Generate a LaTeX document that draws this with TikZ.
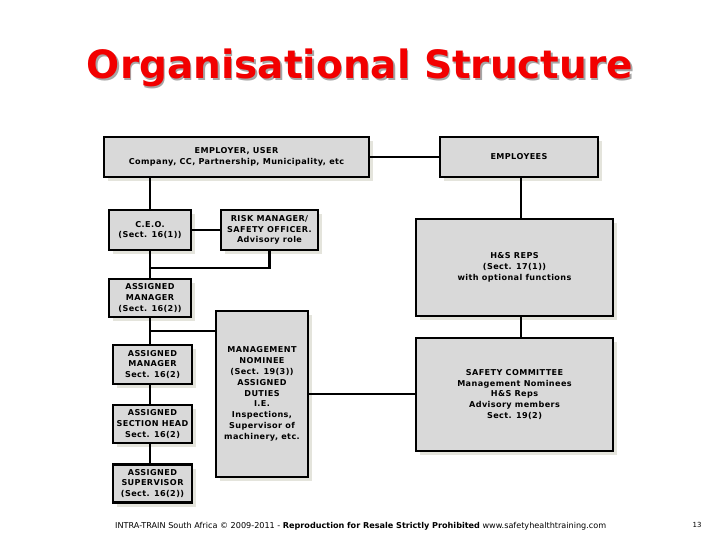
\documentclass[tikz,border=0pt]{standalone}
\usepackage{fontspec}
\setmainfont{DejaVu Sans}
\newfontfamily\boxfont{DejaVu Sans}[LetterSpace=5]
\usetikzlibrary{shadows}
\definecolor{boxfill}{HTML}{D9D9D9}
\definecolor{shadowc}{HTML}{E4E4DC}
\definecolor{titlered}{HTML}{F20000}
\begin{document}
\begin{tikzpicture}[x=1pt,y=-1pt,
  orgbox/.style={draw=black, line width=2.2pt, fill=boxfill, align=center, inner sep=1pt,
    font=\boxfont\fontsize{8.1}{10.8}\selectfont\bfseries,
    drop shadow={shadow xshift=4pt, shadow yshift=-4pt, fill=shadowc, opacity=1}},
  link/.style={line width=2.2pt}]
\useasboundingbox (0,0) rectangle (720,540);
\fill[white] (0,0) rectangle (720,540);

% title
\node[text=black!35, font=\fontsize{39}{44}\selectfont\bfseries] at (361.5,69.5) {Organisational Structure};
\node (title) [text=titlered, font=\fontsize{39}{44}\selectfont\bfseries] at (360,68) {Organisational Structure};

% boxes
\node[orgbox, minimum width=265, minimum height=40] (emp) at (236.5,157) {EMPLOYER, USER\\Company, CC, Partnership, Municipality, etc};
\node[orgbox, minimum width=158, minimum height=40] (emps) at (519,157) {EMPLOYEES};
\node[orgbox, minimum width=82, minimum height=40] (ceo) at (150,230) {C.E.O.\\(Sect. 16(1))};
\node[orgbox, minimum width=97, minimum height=40] (risk) at (269.5,230) {RISK MANAGER/\\SAFETY OFFICER.\\Advisory role};
\node[orgbox, minimum width=197, minimum height=97] (hs) at (514.5,267.5) {H\&S REPS\\(Sect. 17(1))\\with optional functions};
\node[orgbox, minimum width=82, minimum height=38] (asg1) at (150,298) {ASSIGNED\\MANAGER\\(Sect. 16(2))};
\node[orgbox, minimum width=92, minimum height=166] (mgmt) at (262,394) {MANAGEMENT\\NOMINEE\\(Sect. 19(3))\\ASSIGNED\\DUTIES\\I.E.\\Inspections,\\Supervisor of\\machinery, etc.};
\node[orgbox, minimum width=197, minimum height=113] (comm) at (514.5,394.5) {SAFETY COMMITTEE\\Management Nominees\\H\&S Reps\\Advisory members\\Sect. 19(2)};
\node[orgbox, minimum width=79, minimum height=39] (asg2) at (152.5,364.5) {ASSIGNED\\MANAGER\\Sect. 16(2)};
\node[orgbox, minimum width=79, minimum height=38] (sect) at (152.5,424) {ASSIGNED\\SECTION HEAD\\Sect. 16(2)};
\node[orgbox, minimum width=79, minimum height=38] (sup) at (152.5,483.5) {ASSIGNED\\SUPERVISOR\\(Sect. 16(2))};

% connectors
\coordinate (j1) at (150,268);
\coordinate (j2) at (150,331);
\coordinate (top1) at (150,0);
\coordinate (top2) at (521,0);
\draw[link] (top1 |- emp.south) -- (ceo.north);
\draw[link] (emp.east) -- (emps.west);
\draw[link] (top2 |- emps.south) -- (top2 |- hs.north);
\draw[link] (ceo.east) -- (risk.west);
\draw[link] (ceo.south) -- (asg1.north);
\draw[link] (risk.south) |- (j1);
\draw[link] (asg1.south) -- (top1 |- asg2.north);
\draw[link] (j2) -- (mgmt.west |- j2);
\draw[link] (top1 |- asg2.south) -- (top1 |- sect.north);
\draw[link] (top1 |- sect.south) -- (top1 |- sup.north);
\draw[link] (mgmt.east) -- (comm.west |- mgmt.east);
\draw[link] (top2 |- hs.south) -- (top2 |- comm.north);

% footer
\node[anchor=base west, inner sep=0, font=\fontsize{8.1}{9}\selectfont] (foot) at (115,528) {INTRA-TRAIN South Africa © 2009-2011 - \textbf{Reproduction for Resale Strictly Prohibited} www.safetyhealthtraining.com};
\node[anchor=base, inner sep=0, font=\fontsize{7}{8}\selectfont] (page) at (697,527) {13};
\end{tikzpicture}
\end{document}
